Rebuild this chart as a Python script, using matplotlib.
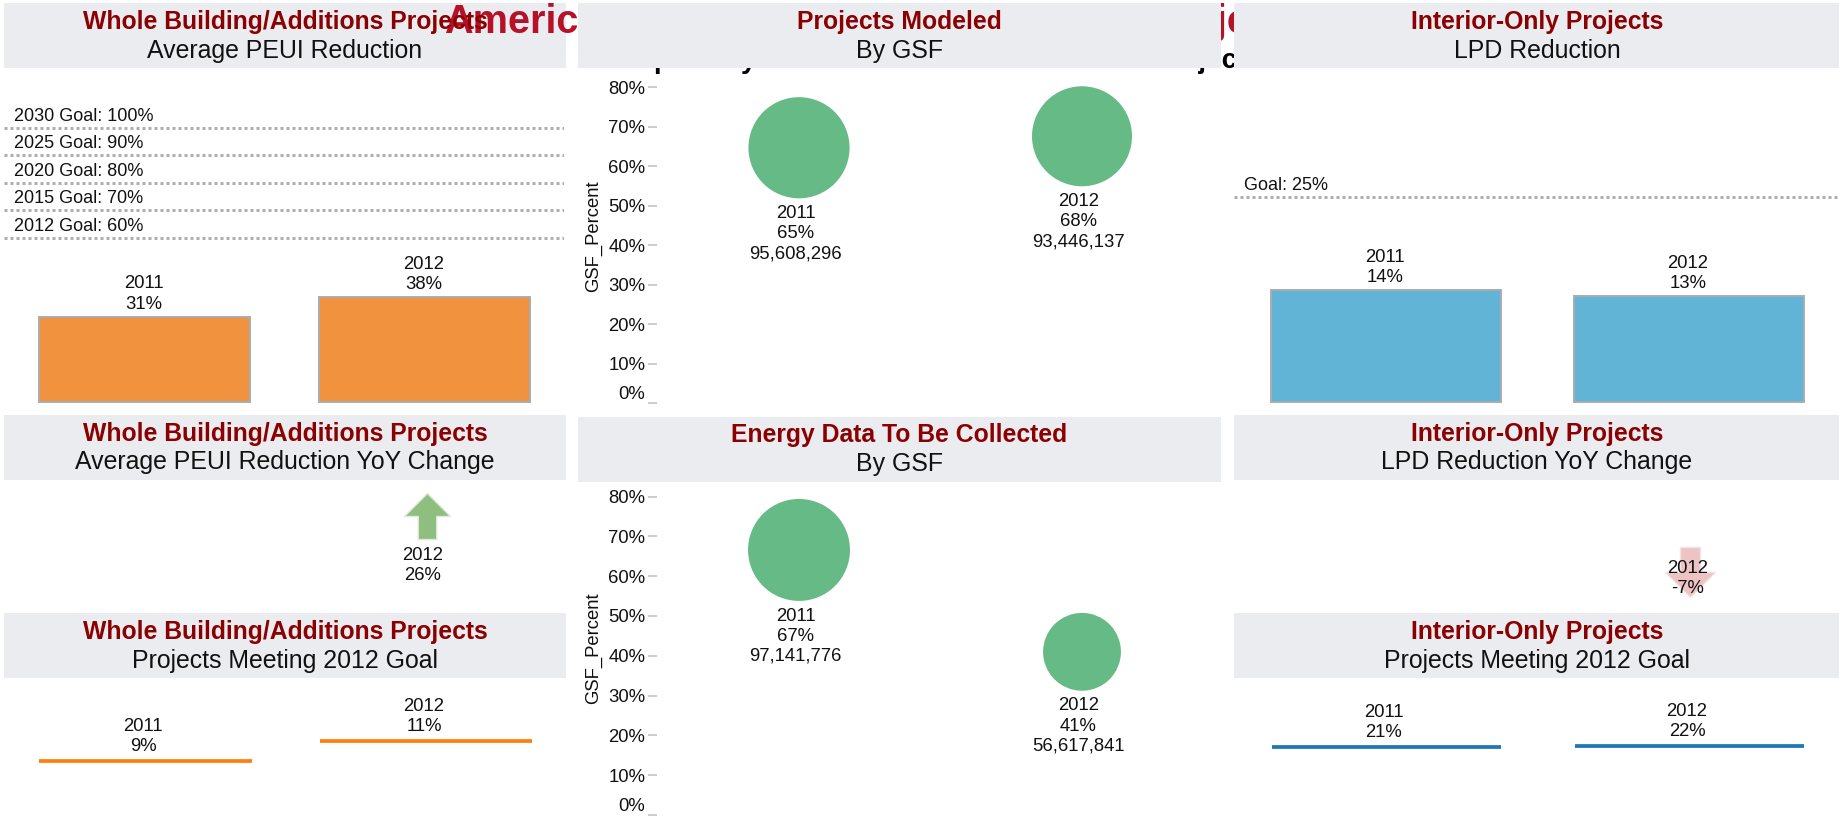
import matplotlib
matplotlib.use('Agg')
import matplotlib.pyplot as plt
from matplotlib.patches import Rectangle
from matplotlib.path import Path

plt.rcParams['font.family'] = ['Liberation Sans', 'DejaVu Sans']

W, H = 1839, 817
PX = 72 / 100  # points per pixel at dpi 100

## the data
years = ['2011', '2012']
peui_reduction = [31.2, 38.2]
peui_goals = [100, 90, 80, 70, 60]
peui_goal_labels = ['2030 Goal: 100%', '2025 Goal: 90%', '2020 Goal: 80%', '2015 Goal: 70%', '2012 Goal: 60%']
lpd_reduction = [13.7, 12.9]
lpd_goal = 25
modeled_pct = [64.7, 67.6]
modeled_gsf = [95608296, 93446137]
collected_pct = [66.6, 41]
collected_gsf = [97141776, 56617841]
peui_meeting = [9, 11]
lpd_meeting = [21, 22]
peui_yoy = 26
lpd_yoy = -7

## colours
HEADER = '#ebecf0'
DARKRED = '#8b0000'
TITLE_RED = '#b5122a'
ORANGE = '#f1933e'
BLUE = '#62b4d6'
GREEN = '#66ba86'
EDGE = '#a9acb0'
GOAL = '#aeaeae'
TICK = '#c4c4c4'

fig = plt.figure(figsize=(W / 100, H / 100), dpi=100)


def header_box(left, top, right, bottom, z):
    fig.add_artist(Rectangle((left / W, 1 - bottom / H), (right - left) / W, (bottom - top) / H,
                             transform=fig.transFigure, facecolor=HEADER, edgecolor='none', zorder=z))


def header_text(x, y1, y2, line1, line2):
    fig.text(x / W, 1 - y1 / H, line1, ha='center', va='baseline', fontsize=17.8, fontweight='bold',
             color=DARKRED, zorder=4)
    fig.text(x / W, 1 - y2 / H, line2, ha='center', va='baseline', fontsize=17.9, color='#111111', zorder=4)


def panel(left, top, right, bottom, c0, c1, y0, pxper):
    # axes placed on the pixel box, categories sit at 0 and 1
    ax = fig.add_axes([left / W, 1 - bottom / H, (right - left) / W, (bottom - top) / H], zorder=5)
    ax.patch.set_alpha(0)
    ax.set_xlim((left - c0) / (c1 - c0), (right - c0) / (c1 - c0))
    ax.set_ylim((y0 - bottom) / pxper, (y0 - top) / pxper)
    ax.axis('off')
    return ax


def label(ax, x, y, text, dx, dy):
    # dy is measured to the baseline of the last line
    ax.annotate(text, xy=(x, y), xytext=(dx * PX, dy * PX), textcoords='offset points',
                ha='center', va='baseline', fontsize=13.3, linespacing=1.24, color='#111111',
                annotation_clip=False)


def bars(ax, values, color, width):
    ax.bar(range(2), values, width, color=color, edgecolor=EDGE, linewidth=1.4, clip_on=False)
    for i, v in enumerate(values):
        label(ax, i, v, f'{years[i]}\n{v:.0f}%', -1, 8)


def goals(ax, values, labels):
    for v, t in zip(values, labels):
        ax.axhline(v, color=GOAL, linewidth=2.16, linestyle=(0, (1, 1)))
        ax.annotate(t, xy=(0, v), xycoords=ax.get_yaxis_transform(), xytext=(10 * PX, 7 * PX),
                    textcoords='offset points', fontsize=13, va='baseline', color='#111111')


def bubbles(ax, pct, gsf):
    ax.axis('on')
    sizes = [107 * g / 1e6 * PX ** 2 for g in gsf]
    ax.scatter(range(2), pct, s=sizes, color=GREEN, linewidth=0, clip_on=False)
    for i, v in enumerate(pct):
        radius = (107 * gsf[i] / 1e6) ** 0.5 / 2
        label(ax, i, v, f'{years[i]}\n{v:.0f}%\n{gsf[i]:,}', -3.5, -(radius + 60))
    for s in ax.spines.values():
        s.set_visible(False)
    ax.set_xticks([])
    ax.set_yticks(range(0, 90, 10))
    ax.set_yticklabels([f'{t}%' for t in range(0, 90, 10)], fontsize=13.3, color='#111111')
    ax.tick_params(axis='y', length=9 * PX, width=1.2, color=TICK, pad=2)
    ax.get_yticklabels()[0].set_verticalalignment('bottom')
    ax.set_ylabel('GSF_Percent', fontsize=13.3, color='#111111')


def rules(ax, values, color, width):
    ax.hlines(values, [i - width / 2 for i in range(2)], [i + width / 2 for i in range(2)],
              color=color, linewidth=2.7, capstyle='butt')
    for i, v in enumerate(values):
        label(ax, i, v, f'{years[i]}\n{v}%', -2, 10)


UP_ARROW = Path([(0, 1), (1, 0), (0.4, 0), (0.4, -1), (-0.4, -1), (-0.4, 0), (-1, 0), (0, 1)], closed=True)
DOWN_ARROW = Path([(0, -1), (1, 0), (0.4, 0), (0.4, 1), (-0.4, 1), (-0.4, 0), (-1, 0), (0, -1)], closed=True)

## headers and the title that sits behind them
header_box(4, 3, 566, 68, 1)
fig.text(444 / W, 1 - 33 / H, 'American', fontsize=28.5, fontweight='bold', color=TITLE_RED,
         va='baseline', zorder=2)
fig.text(1150 / W, 1 - 33 / H, 'Projects', fontsize=28.5, fontweight='bold', color=TITLE_RED,
         va='baseline', zorder=2)
fig.text(653 / W, 1 - 68 / H, 'p', fontsize=20, fontweight='bold', va='baseline', zorder=2)
fig.text(741 / W, 1 - 68 / H, 'y', fontsize=20, fontweight='bold', va='baseline', zorder=2)
fig.text(1152 / W, 1 - 68 / H, 'Projects', fontsize=20, fontweight='bold', va='baseline', zorder=2)
header_box(578, 3, 1221, 68, 3)
header_box(1234, 3, 1839, 68, 3)
header_box(4, 415, 566, 480, 3)
header_box(578, 417, 1221, 482, 3)
header_box(1234, 415, 1839, 480, 3)
header_box(4, 613, 566, 678, 3)
header_box(1234, 613, 1839, 678, 3)

header_text(285, 29, 58, 'Whole Building/Additions Projects', 'Average PEUI Reduction')
header_text(285, 441, 469, 'Whole Building/Additions Projects', 'Average PEUI Reduction YoY Change')
header_text(285, 639, 668, 'Whole Building/Additions Projects', 'Projects Meeting 2012 Goal')
header_text(899.5, 29, 58, 'Projects Modeled', 'By GSF')
header_text(899.5, 442, 471, 'Energy Data To Be Collected', 'By GSF')
header_text(1537, 29, 58, 'Interior-Only Projects', 'LPD Reduction')
header_text(1537, 441, 469, 'Interior-Only Projects', 'LPD Reduction YoY Change')
header_text(1537, 639, 668, 'Interior-Only Projects', 'Projects Meeting 2012 Goal')

## left column
ax1 = panel(4, 68, 564, 402, 145, 424.5, 402, 2.74)
goals(ax1, peui_goals, peui_goal_labels)
bars(ax1, peui_reduction, ORANGE, 211 / 279.5)

ax2 = panel(4, 480, 564, 613, 145, 427, 542, 1)
ax2.scatter([1], [peui_yoy], s=(46 * PX) ** 2, marker=UP_ARROW, color='#8fbf7f', edgecolor='#dfe8db',
            linewidth=1, clip_on=False)
label(ax2, 1, peui_yoy, f'2012\n{peui_yoy}%', -4, -64)

ax3 = panel(4, 678, 564, 817, 145, 426, 850.7, 10)
rules(ax3, peui_meeting, '#ff7f0e', 213 / 281)

## centre column
ax4 = panel(657, 68, 1221, 403.3, 799, 1082, 403.3, 3.95)
bubbles(ax4, modeled_pct, modeled_gsf)
ax4.yaxis.set_label_coords((602.5 - 657) / (1221 - 657), (403.3 - 236) / (403.3 - 68))

ax5 = panel(657, 482, 1221, 815, 799, 1082, 815, 3.98)
bubbles(ax5, collected_pct, collected_gsf)
ax5.yaxis.set_label_coords((602.5 - 657) / (1221 - 657), (815 - 648) / (815 - 482))

## right column
ax6 = panel(1234, 68, 1839, 402, 1386, 1689, 402, 8.18)
goals(ax6, [lpd_goal], [f'Goal: {lpd_goal}%'])
bars(ax6, lpd_reduction, BLUE, 230 / 303)

ax7 = panel(1234, 480, 1839, 613, 1386, 1690, 565, 1)
ax7.scatter([1], [lpd_yoy], s=(50 * PX) ** 2, marker=DOWN_ARROW, color='#edc3c3', edgecolor='#f5e3e3',
            linewidth=1, clip_on=False)
label(ax7, 1, lpd_yoy, f'2012\n{lpd_yoy}%', -2, -21)

ax8 = panel(1234, 678, 1839, 817, 1386, 1689, 767.7, 1)
rules(ax8, lpd_meeting, '#1f77b4', 229 / 303)

fig.savefig('out.png', dpi=100)
